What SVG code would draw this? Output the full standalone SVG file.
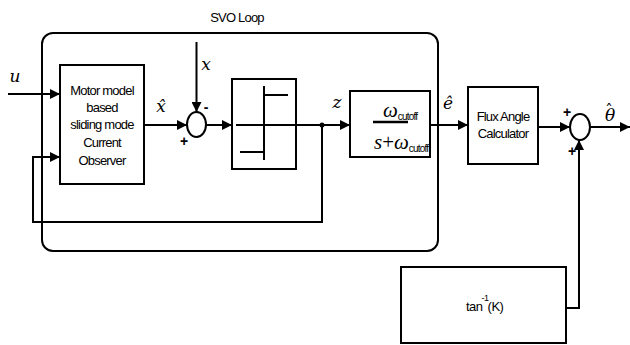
<svg xmlns="http://www.w3.org/2000/svg" width="630" height="345" viewBox="0 0 630 345">
<style>
.b{fill:none;stroke:#000;stroke-width:2}
.c{fill:none;stroke:#000;stroke-width:2}
.t{font-family:"Liberation Sans",Arial,sans-serif;font-size:13px;letter-spacing:-0.8px;fill:#000;text-anchor:middle}
.m{font-family:"DejaVu Serif","Liberation Serif",serif;font-style:italic;font-size:17px;fill:#000;text-anchor:middle}
.s{font-family:"Liberation Sans",Arial,sans-serif;font-size:14px;font-weight:bold;fill:#000;text-anchor:middle}
.w{font-family:"Liberation Serif","Times New Roman",serif;font-style:italic;font-size:21px;fill:#000}
.sub{font-family:"Liberation Sans",Arial,sans-serif;font-style:normal;font-size:10px;letter-spacing:-0.8px}
</style>
<defs>
<marker id="a" viewBox="0 0 10 10" refX="10" refY="5" markerWidth="10" markerHeight="10" markerUnits="userSpaceOnUse" orient="auto">
<path d="M0,0 L10,5 L0,10 z" fill="#000"/>
</marker>
</defs>
<rect width="630" height="345" fill="#fff"/>
<g id="loop">
<rect x="42" y="33" width="396" height="218" rx="11" class="b"/>
<text class="t" x="237" y="22">SVO Loop</text>
</g>
<g id="observer">
<rect x="60" y="65" width="84" height="119" class="b"/>
<text class="t" x="102" y="95">Motor model</text>
<text class="t" x="102" y="112">based</text>
<text class="t" x="102" y="129">sliding mode</text>
<text class="t" x="102" y="147">Current</text>
<text class="t" x="102" y="165">Observer</text>
</g>
<g id="sum1">
<ellipse cx="196.5" cy="124.5" rx="9.5" ry="12.5" class="b"/>
<text class="s" x="206" y="112">-</text>
<text class="s" x="184" y="146">+</text>
</g>
<g id="relay">
<rect x="232" y="79" width="64" height="90" class="b"/>
<path d="M264,86 V160 M264,95 H288 M240,152 H264" class="c"/>
</g>
<g id="filter">
<rect x="350" y="91" width="80" height="66" class="b"/>
<line x1="373" y1="122" x2="408" y2="122" stroke="#000" stroke-width="2.5"/>
<text class="w" x="383" y="117">ω<tspan class="sub" dy="3">cutoff</tspan></text>
<text class="w" x="374" y="149">s<tspan font-style="normal">+</tspan>ω<tspan class="sub" dy="3">cutoff</tspan></text>
</g>
<g id="flux">
<rect x="468" y="87" width="70" height="77" class="b"/>
<text class="t" x="503" y="121">Flux Angle</text>
<text class="t" x="503" y="138">Calculator</text>
</g>
<g id="sum2">
<ellipse cx="580" cy="127" rx="10" ry="13" class="b"/>
<text class="s" x="567" y="117">+</text>
<text class="s" x="572" y="156">+</text>
</g>
<g id="atan">
<rect x="401" y="267" width="165" height="76" class="b"/>
<text font-family="Liberation Sans,Arial,sans-serif" font-size="13" letter-spacing="-0.5" x="466" y="311">tan<tspan font-size="9" dx="-1" dy="-10">-1</tspan><tspan dx="-1" dy="10">(K)</tspan></text>
</g>
<g id="connectors">
<path d="M8,94 H60" class="c" marker-end="url(#a)"/>
<path d="M144,125 H187" class="c" marker-end="url(#a)"/>
<path d="M196.5,42 V112" class="c" marker-end="url(#a)"/>
<path d="M206,125 H232" class="c" marker-end="url(#a)"/>
<path d="M236,125 H350" class="c" marker-end="url(#a)"/>
<path d="M322,125 V222 H33 V157 H60" class="c" marker-end="url(#a)"/>
<circle cx="322" cy="125" r="2.5" fill="#000"/>
<path d="M430,125 H468" class="c" marker-end="url(#a)"/>
<path d="M538,127 H570" class="c" marker-end="url(#a)"/>
<path d="M590,127 H630" class="c" marker-end="url(#a)"/>
<path d="M566,308 H579 V140" class="c" marker-end="url(#a)"/>
</g>
<g id="labels">
<text class="m" x="15" y="82">u</text>
<text class="m" x="161" y="112">x̂</text>
<text class="m" x="206" y="70">x</text>
<text class="m" x="337" y="108">z</text>
<text class="m" x="448" y="109">ê</text>
<text font-family="DejaVu Serif,serif" font-style="italic" font-size="17" x="605" y="121">θ<tspan font-style="normal" font-size="15" dx="-10" dy="-6">ˆ</tspan></text>
</g>
</svg>
